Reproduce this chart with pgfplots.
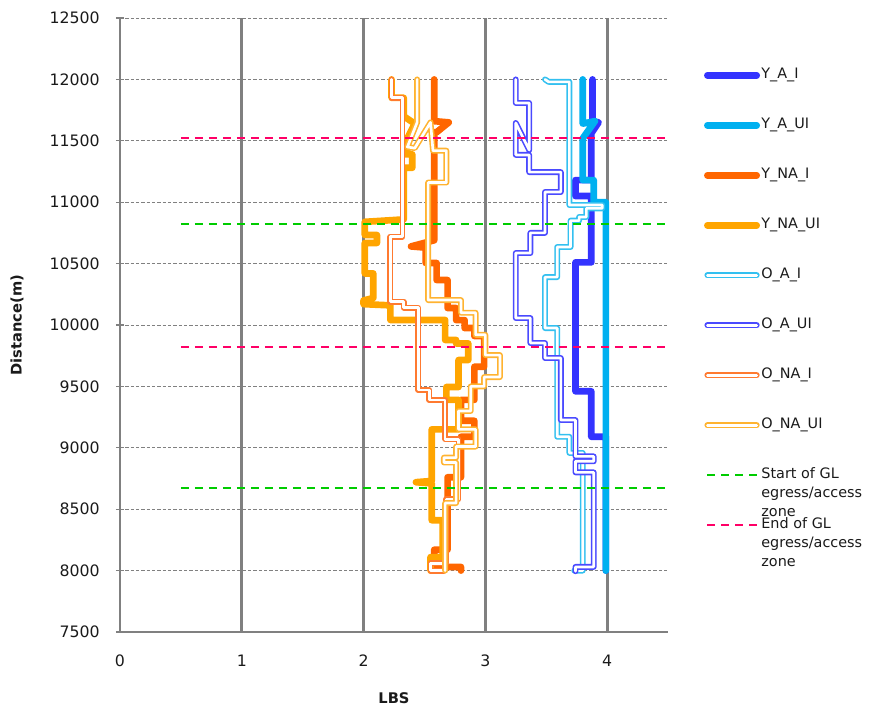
\documentclass[border=0pt]{standalone}
\usepackage{pgfplots}
\pgfplotsset{compat=1.18}
\usepackage{fontspec}
\setmainfont{DejaVu Sans}
\definecolor{cYAI}{HTML}{3333FF}
\definecolor{cYAUI}{HTML}{00B0F0}
\definecolor{cYNAI}{HTML}{FF6600}
\definecolor{cYNAUI}{HTML}{FFA500}
\definecolor{cOAI}{HTML}{33C0F0}
\definecolor{cOAUI}{HTML}{4A4AFF}
\definecolor{cONAI}{HTML}{FF7A30}
\definecolor{cONAUI}{HTML}{FFB330}
\definecolor{cGreen}{HTML}{00CC00}
\definecolor{cRed}{HTML}{FF0066}
\definecolor{cGrid}{HTML}{808080}
\definecolor{cText}{HTML}{1A1A1A}
\pgfplotsset{
  thk/.style={line width=5pt, line join=round, line cap=round},
  dbl/.style={line width=1.2pt, double=white, double distance=2pt, line join=round, line cap=round},
}
\begin{document}
\begin{tikzpicture}[x=1pt,y=1pt]
\path[use as bounding box] (-90,-57) rectangle (562.5,474);
\begin{axis}[
  at={(0,0)}, anchor=south west,
  scale only axis, width=411pt, height=460.5pt,
  xmin=0, xmax=4.5, ymin=7500, ymax=12500,
  xtick={0,1,2,3,4}, ytick={7500,8000,...,12500},
  scaled y ticks=false, scaled x ticks=false,
  extra x ticks={1,2,3,4}, extra x tick labels={},
  extra x tick style={xmajorgrids=true, major grid style={line width=2.2pt, color=cGrid}, major tick length=0pt},
  ymajorgrids=true,
  y grid style={color=cGrid, line width=0.6pt, dash pattern=on 2.5pt off 1.5pt},
  axis x line=bottom, axis y line=left,
  axis line style={-, color=cGrid, line width=1pt},
  xtick style={draw=none},
  ytick style={color=cGrid, line width=0.8pt},
  tick align=center, major tick length=6pt,
  /pgf/number format/assume math mode=true,
  /pgf/number format/1000 sep={},
  yticklabel style={font=\fontsize{11.8}{13}\selectfont, text=cText, inner sep=0pt, xshift=-12pt},
  xticklabel style={font=\fontsize{11.8}{13}\selectfont, text=cText, inner sep=0pt, anchor=north, yshift=-14pt},
  ylabel={Distance(m)}, xlabel={LBS},
  ylabel style={at={(axis description cs:-0.188,0.5)}, anchor=center, font=\bfseries\fontsize{11}{13}\selectfont, text=cText},
  xlabel style={at={(axis description cs:0.5,-0.1075)}, anchor=center, font=\bfseries\fontsize{11}{13}\selectfont, text=cText},
  legend style={at={(axis description cs:1.058,0.925)}, anchor=north west, draw=none, fill=none,
    font=\fontsize{10.8}{13.9}\selectfont, text=cText, row sep=25pt,
    nodes={inner sep=1pt, text height=8pt, text depth=2.5pt},
    /tikz/every even column/.append style={column sep=0pt}},
  legend cell align=left,
  legend image code/.code={\draw[#1] (0pt,0pt) -- (37pt,0pt);},
]
% Y_A_I
\addplot[thk, cYAI] coordinates {
(3.88,12000)(3.88,11660)(3.93,11650)(3.87,11560)(3.87,11180)(3.74,11180)(3.74,11050)(3.87,11050)
(3.87,10510)(3.74,10510)(3.74,9460)(3.87,9460)(3.87,9090)(3.99,9090)(3.99,8000)};
\addlegendentry{Y\_A\_I}
% Y_A_UI
\addplot[thk, cYAUI] coordinates {
(3.80,12000)(3.80,11640)(3.90,11660)(3.80,11520)(3.80,11180)(3.89,11180)(3.89,11000)(3.99,11000)(3.99,8000)};
\addlegendentry{Y\_A\_UI}
% Y_NA_I
\addplot[thk, cYNAI] coordinates {
(2.58,12000)(2.58,11660)(2.70,11650)(2.60,11570)(2.58,11570)(2.58,10690)(2.39,10640)(2.51,10630)
(2.51,10505)(2.60,10505)(2.60,10366)(2.69,10366)(2.69,10138)(2.76,10138)(2.76,10040)(2.83,10040)
(2.83,9975)(2.91,9975)(2.91,9910)(2.99,9910)(2.99,9660)(2.91,9660)(2.91,9390)(2.80,9390)(2.80,9220)
(2.91,9220)(2.91,9090)(2.80,9090)(2.80,8760)(2.69,8760)(2.69,8170)(2.58,8170)(2.58,8030)(2.80,8030)(2.80,8000)};
\addlegendentry{Y\_NA\_I}
% Y_NA_UI
\addplot[thk, cYNAUI] coordinates {
(2.23,12000)(2.23,11850)(2.33,11850)(2.33,11700)(2.42,11640)(2.36,11520)(2.36,11420)(2.33,11400)
(2.33,11390)(2.40,11390)(2.40,11280)(2.33,11280)(2.33,10860)(2.01,10840)(2.01,10733)(2.11,10733)
(2.11,10668)(2.01,10668)(2.01,10420)(2.08,10420)(2.08,10220)(2.00,10200)(2.00,10170)(2.22,10160)
(2.22,10041)(2.67,10041)(2.67,9878)(2.76,9878)(2.76,9850)(2.86,9850)(2.86,9715)(2.78,9715)(2.78,9495)
(2.68,9495)(2.68,9390)(2.78,9390)(2.78,9150)(2.56,9150)(2.56,8730)(2.43,8720)(2.56,8710)(2.56,8410)
(2.65,8410)(2.65,8110)(2.55,8110)(2.55,8000)};
\addlegendentry{Y\_NA\_UI}
% O_A_I
\addplot[dbl, cOAI] coordinates {
(3.49,12000)(3.52,11980)(3.69,11980)(3.69,10977)(3.96,10977)(3.96,10950)(3.83,10950)(3.83,10880)
(3.77,10880)(3.77,10850)(3.70,10850)(3.70,10635)(3.59,10635)(3.59,10390)(3.49,10390)(3.49,9975)
(3.59,9975)(3.59,9090)(3.69,9090)(3.69,8958)(3.80,8958)(3.80,8000)(3.73,8000)};
\addlegendentry{O\_A\_I}
% O_A_UI
\addplot[dbl, cOAUI] coordinates {
(3.25,12000)(3.25,11808)(3.36,11808)(3.36,11425)(3.25,11645)(3.25,11385)(3.36,11385)(3.36,11245)
(3.62,11245)(3.62,11083)(3.49,11083)(3.49,10750)(3.37,10750)(3.37,10586)(3.25,10586)(3.25,10057)
(3.37,10057)(3.37,9853)(3.49,9853)(3.49,9731)(3.62,9731)(3.62,9226)(3.74,9226)(3.74,8930)(3.89,8930)
(3.89,8890)(3.74,8890)(3.74,8800)(3.89,8800)(3.89,8030)(3.74,8030)(3.74,7995)};
\addlegendentry{O\_A\_UI}
% O_NA_I
\addplot[dbl, cONAI] coordinates {
(2.23,12000)(2.23,11850)(2.32,11850)(2.32,10720)(2.22,10720)(2.22,10190)(2.33,10190)(2.33,10140)
(2.45,10140)(2.45,9470)(2.54,9470)(2.54,9390)(2.67,9390)(2.67,9070)(2.78,9070)(2.78,8580)(2.68,8580)
(2.68,8060)(2.55,8060)(2.55,8000)(2.66,8000)};
\addlegendentry{O\_NA\_I}
% O_NA_UI
\addplot[dbl, cONAUI] coordinates {
(2.44,12000)(2.44,11650)(2.36,11450)(2.42,11440)(2.55,11650)(2.57,11420)(2.68,11420)(2.68,11160)
(2.53,11160)(2.53,10203)(2.80,10203)(2.80,10100)(2.92,10100)(2.92,9920)(3.00,9920)(3.00,9755)
(3.12,9755)(3.12,9576)(2.99,9576)(2.99,9500)(2.88,9500)(2.88,9300)(2.78,9300)(2.78,9150)(2.92,9150)
(2.92,9010)(2.76,9010)(2.76,8920)(2.66,8920)(2.66,8880)(2.76,8880)(2.76,8550)(2.67,8550)(2.67,8000)};
\addlegendentry{O\_NA\_UI}
% zone lines
\addplot[cGreen, line width=1.6pt, dash pattern=on 6pt off 4.5pt] coordinates {(0.5,10820)(4.5,10820)};
\addlegendentry{\smash{\begin{tabular}[t]{@{}l@{}}Start of GL\\egress/access\\zone\end{tabular}}}
\addplot[cRed, line width=1.6pt, dash pattern=on 6pt off 4.5pt] coordinates {(0.5,9820)(4.5,9820)};
\addlegendentry{\smash{\begin{tabular}[t]{@{}l@{}}End of GL\\egress/access\\zone\end{tabular}}}
\addplot[cGreen, line width=1.6pt, dash pattern=on 6pt off 4.5pt, forget plot] coordinates {(0.5,8670)(4.5,8670)};
\addplot[cRed, line width=1.6pt, dash pattern=on 6pt off 4.5pt, forget plot] coordinates {(0.5,11520)(4.5,11520)};
\end{axis}
\end{tikzpicture}
\end{document}
